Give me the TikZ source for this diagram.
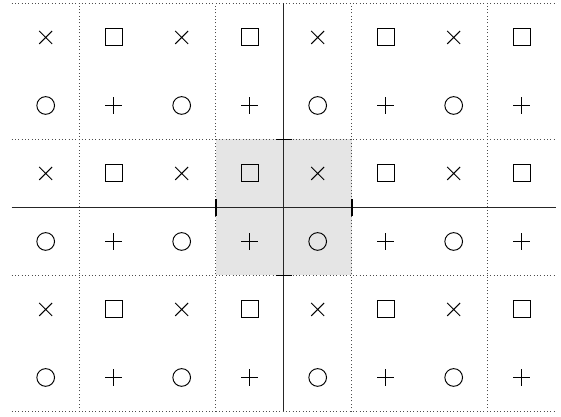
\documentclass[tikz,border=0pt]{standalone}
\begin{document}
\begin{tikzpicture}[x=1cm,y=1cm,
  gridline/.style={densely dotted, black!70},
  axisline/.style={black!85, line width=0.45pt},
  tickmark/.style={black, line width=0.7pt},
  sym/.style={black, line width=0.4pt},
  sq/.pic={\draw[sym] (-0.125,-0.125) rectangle (0.125,0.125);},
  ci/.pic={\draw[sym] (0,0) circle (0.13);},
  cr/.pic={\draw[sym] (-0.095,-0.095)--(0.095,0.095) (-0.095,0.095)--(0.095,-0.095);},
  pl/.pic={\draw[sym] (-0.125,0)--(0.125,0) (0,-0.125)--(0,0.125);}
]
\useasboundingbox (-4.172,-3.081) rectangle (4.078,3.051);
% shaded cell
\fill[black!10] (-1,-1) rectangle (1,1);
% dotted grid
\foreach \y in {-3,-1,1,3} \draw[gridline] (-4,\y) -- (4,\y);
\foreach \x in {-3,-1,1,3} \draw[gridline] (\x,-3) -- (\x,3);
% axes
\coordinate (L) at (-4,0);
\coordinate (R) at (4,0);
\coordinate (B) at (0,-3);
\coordinate (T) at (0,3);
\draw[axisline] (L) -- (R);
\draw[axisline] (B) -- (T);
% ticks
\foreach \x in {-1,1} \draw[tickmark] (\x,-0.13) -- (\x,0.13);
\foreach \y in {-1,1} \draw[tickmark] (-0.12,\y) -- (0.12,\y);
% symbols
\foreach \y in {2.5,0.5,-1.5} {
  \foreach \x in {-3.5,-1.5,0.5,2.5} \pic at (\x,\y) {cr};
  \foreach \x in {-2.5,-0.5,1.5,3.5} \pic at (\x,\y) {sq};
}
\foreach \y in {1.5,-0.5,-2.5} {
  \foreach \x in {-3.5,-1.5,0.5,2.5} \pic at (\x,\y) {ci};
  \foreach \x in {-2.5,-0.5,1.5,3.5} \pic at (\x,\y) {pl};
}
\end{tikzpicture}
\end{document}
